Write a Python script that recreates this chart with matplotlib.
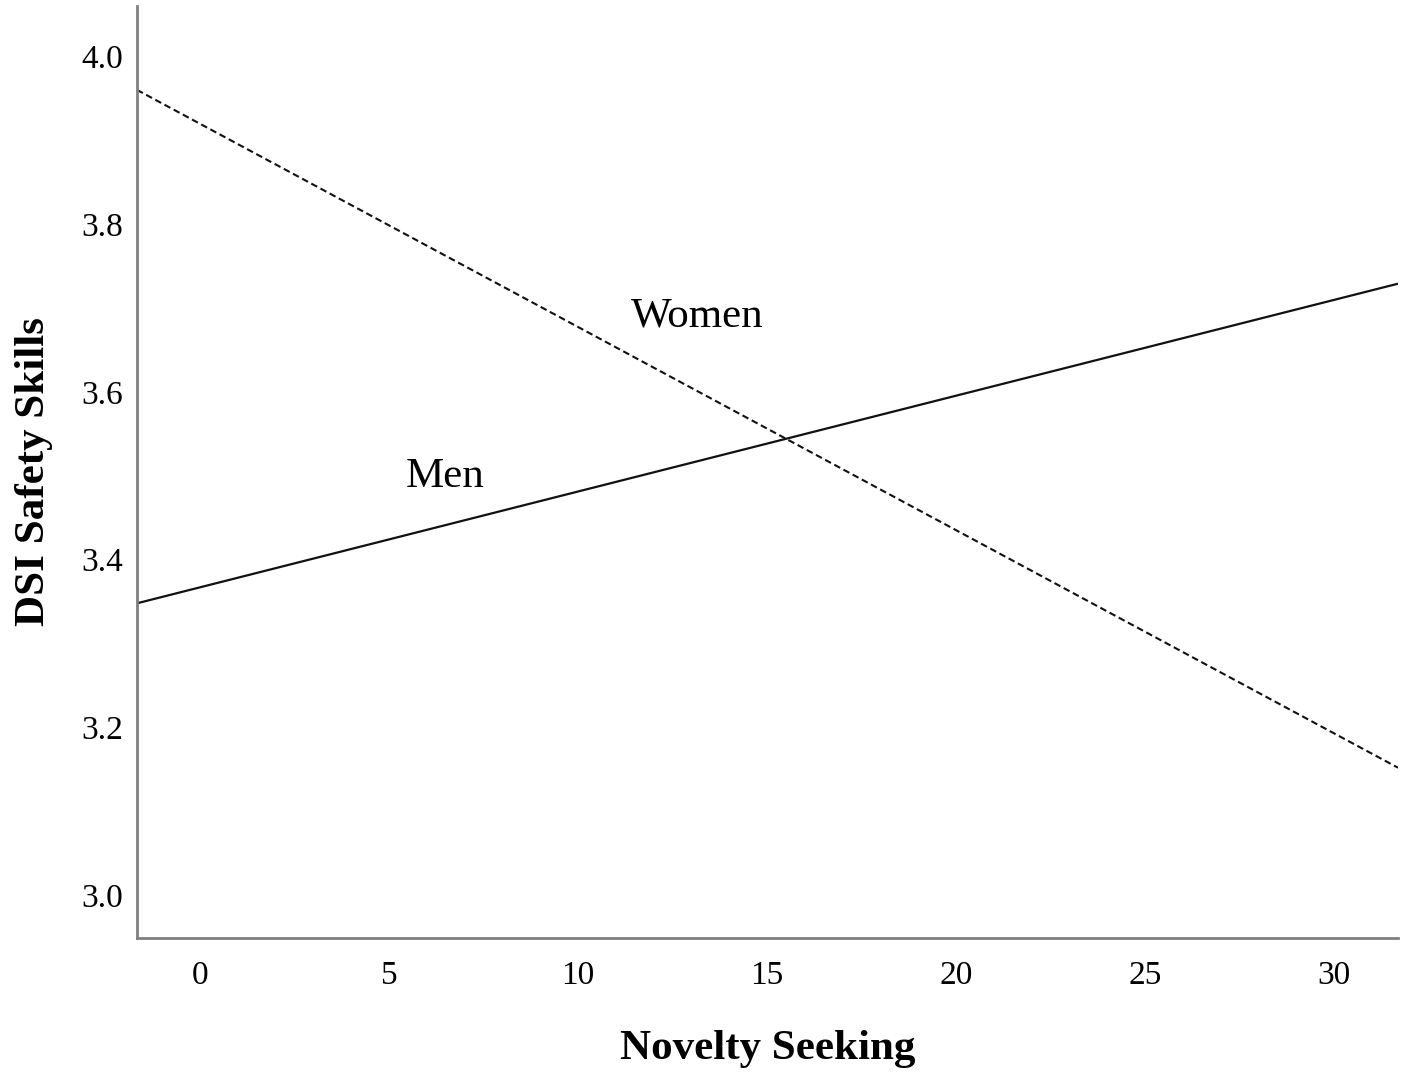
import matplotlib
matplotlib.use('Agg')
import matplotlib.pyplot as plt

# fitted simple slopes, read at the two ends of the x range
x_ends = [-1.67, 31.7]
men_y = [3.348, 3.729]
women_y = [3.96, 3.152]

x_ticks = [0, 5, 10, 15, 20, 25, 30]
y_ticks = [3.0, 3.2, 3.4, 3.6, 3.8, 4.0]

plt.rcParams['font.family'] = ['Liberation Serif', 'DejaVu Serif']

fig = plt.figure(figsize=(14.15, 10.73), dpi=100)
ax = fig.add_axes([0.0968, 0.1258, 0.8912, 0.8686])

ax.plot(x_ends, men_y, color='#111111', lw=1.6, solid_capstyle='butt')
ax.plot(x_ends, women_y, color='#111111', lw=1.5, dashes=(3.2, 1.8))

ax.text(13.15, 3.69, 'Women', fontsize=31, ha='center', va='center')
ax.text(6.48, 3.499, 'Men', fontsize=31, ha='center', va='center')

ax.set_xlim(x_ends[0], x_ends[1])
ax.set_ylim(2.949, 4.06)
ax.set_xticks(x_ticks)
ax.set_yticks(y_ticks)
ax.set_yticklabels([f'{v:.1f}' for v in y_ticks])
ax.tick_params(axis='both', length=0, labelsize=24)
ax.tick_params(axis='x', pad=16)
ax.tick_params(axis='y', pad=10)

for side in ['top', 'right']:
    ax.spines[side].set_visible(False)
for side in ['left', 'bottom']:
    ax.spines[side].set_color('#808080')
    ax.spines[side].set_linewidth(2.0)

ax.set_xlabel('Novelty Seeking', fontsize=31, fontweight='bold', labelpad=28)
ax.set_ylabel('DSI Safety Skills', fontsize=31, fontweight='bold', labelpad=20)

fig.savefig('out.png', dpi=100)
